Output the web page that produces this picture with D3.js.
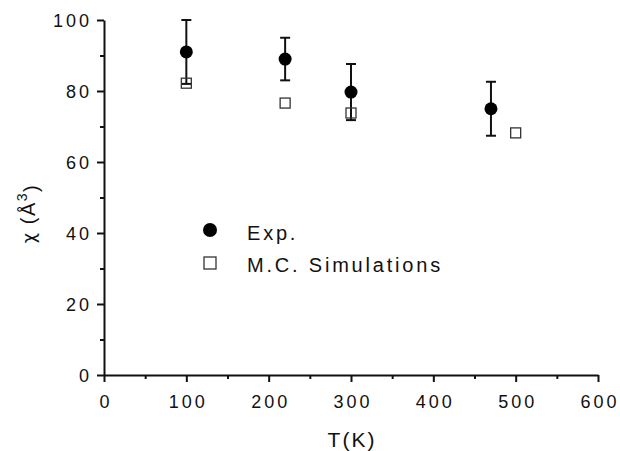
<!DOCTYPE html>
<html>
<head>
<meta charset="utf-8">
<script src="https://cdn.jsdelivr.net/npm/d3@7"></script>
<style>
  body { margin: 0; background: #fff; }
  text { font-family: "Liberation Sans", Arial, sans-serif; fill: #111; }
</style>
</head>
<body>
<svg class="chart" width="620" height="451"></svg>
<script>
// Data
const expT = [100, 220, 300, 470];
const expChi = [91, 89, 79.7, 75];
const expErr = [9, 6, 7.9, 7.6];
const simT = [100, 220, 300, 500];
const simChi = [82.2, 76.6, 73.8, 68.2];
const xTicks = [0, 100, 200, 300, 400, 500, 600];
const yTicks = [0, 20, 40, 60, 80, 100];

const margin = { top: 20, right: 22, bottom: 76, left: 104 };
const width = 620 - margin.left - margin.right;
const height = 451 - margin.top - margin.bottom;

const svg = d3.select(".chart");
const chart = svg.append("g")
  .attr("transform", `translate(${margin.left}, ${margin.top})`);

const xScale = d3.scaleLinear().domain([0, 600]).range([0, width]);
const yScale = d3.scaleLinear().domain([0, 100]).range([height, 0]);

// x axis with minor ticks
const xAxis = chart.append("g")
  .attr("transform", `translate(0, ${height})`)
  .call(d3.axisBottom(xScale).tickValues(xTicks).tickSize(7).tickPadding(13).tickSizeOuter(0));
chart.append("g")
  .attr("transform", `translate(0, ${height})`)
  .call(d3.axisBottom(xScale).tickValues(d3.range(50, 600, 100)).tickSize(4).tickFormat("").tickSizeOuter(0))
  .select(".domain").remove();

// y axis with minor ticks
const yAxis = chart.append("g")
  .call(d3.axisLeft(yScale).tickValues(yTicks).tickSize(7).tickPadding(5).tickSizeOuter(0));
chart.append("g")
  .call(d3.axisLeft(yScale).tickValues(d3.range(10, 100, 20)).tickSize(4).tickFormat("").tickSizeOuter(0))
  .select(".domain").remove();

chart.selectAll(".domain, .tick line").attr("stroke", "#111").attr("stroke-width", 2);
chart.selectAll(".tick text")
  .style("font-size", "18px")
  .style("letter-spacing", "3px")
  .attr("fill", "#111");
xAxis.selectAll(".tick text").attr("dx", "1.5px");
yAxis.selectAll(".tick text").attr("dy", "0.35em");

// x axis label
chart.append("text")
  .attr("x", width / 2 + 1)
  .attr("y", height + 72)
  .attr("text-anchor", "middle")
  .style("font-size", "21px")
  .style("letter-spacing", "2px")
  .text("T(K)");

// y axis label
const yLabel = chart.append("text")
  .attr("transform", `translate(${-69}, ${height / 2 + 16}) rotate(-90)`)
  .attr("text-anchor", "middle")
  .style("font-size", "20px")
  .style("letter-spacing", "1.5px");
yLabel.append("tspan").style("font-family", "'DejaVu Sans'").style("font-size", "18px").text("\u03C7");
yLabel.append("tspan").text(" (\u00C5");
yLabel.append("tspan").attr("dy", "-0.55em").style("font-size", "14px").text("3");
yLabel.append("tspan").attr("dy", "0.55em").text(")");

// error bars
const errData = expT.map((t, i) => ({ t, v: expChi[i], e: expErr[i] }));
const err = chart.selectAll(".err").data(errData).enter().append("g").attr("class", "err");
err.append("line")
  .attr("x1", d => xScale(d.t)).attr("x2", d => xScale(d.t))
  .attr("y1", d => yScale(d.v + d.e)).attr("y2", d => yScale(d.v - d.e))
  .attr("stroke", "#111").attr("stroke-width", 2);
err.selectAll(".cap").data(d => [[d.t, d.v + d.e], [d.t, d.v - d.e]]).enter().append("line")
  .attr("x1", d => xScale(d[0]) - 5).attr("x2", d => xScale(d[0]) + 5)
  .attr("y1", d => yScale(d[1])).attr("y2", d => yScale(d[1]))
  .attr("stroke", "#111").attr("stroke-width", 2);

// simulation squares
chart.selectAll(".sim").data(simT).enter().append("rect")
  .attr("x", (d, i) => xScale(d) - 5)
  .attr("y", (d, i) => yScale(simChi[i]) - 5)
  .attr("width", 10).attr("height", 10)
  .attr("fill", "none").attr("stroke", "#333").attr("stroke-width", 1.3);

// experimental circles
chart.selectAll(".exp").data(expT).enter().append("circle")
  .attr("cx", d => xScale(d))
  .attr("cy", (d, i) => yScale(expChi[i]))
  .attr("r", 6.5)
  .attr("fill", "#000");

// legend
const legend = chart.append("g").attr("transform", `translate(${210 - margin.left}, ${230 - margin.top})`);
legend.append("circle").attr("cx", 0).attr("cy", 0).attr("r", 7).attr("fill", "#000");
legend.append("text").attr("x", 37).attr("y", 10)
  .style("font-size", "20px").style("letter-spacing", "2.8px").text("Exp.");
legend.append("rect").attr("x", -6).attr("y", 27).attr("width", 12).attr("height", 12)
  .attr("fill", "none").attr("stroke", "#333").attr("stroke-width", 1.3);
legend.append("text").attr("x", 37).attr("y", 42)
  .style("font-size", "20px").style("letter-spacing", "2.8px").text("M.C. Simulations");
</script>
</body>
</html>
